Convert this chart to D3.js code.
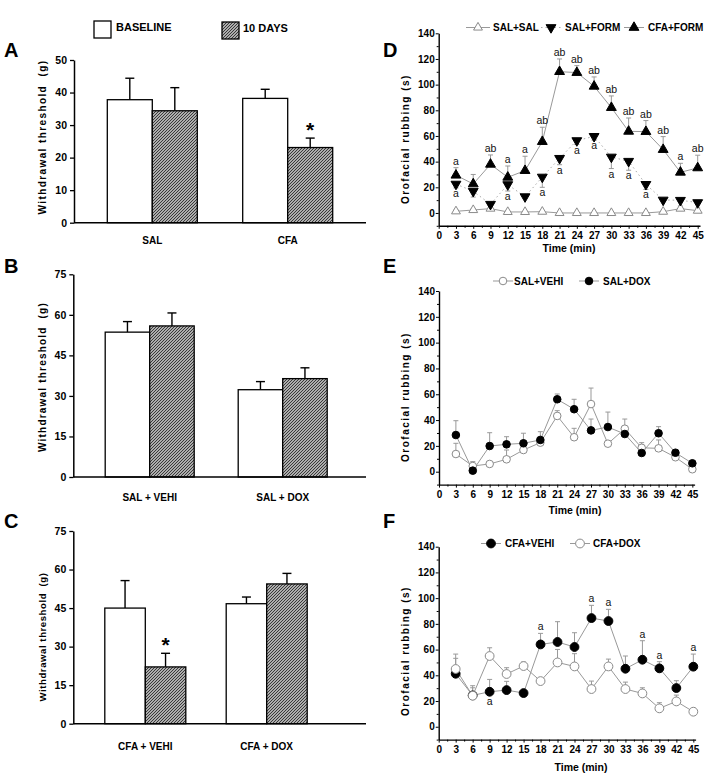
<!DOCTYPE html>
<html><head><meta charset="utf-8">
<script src="https://cdn.jsdelivr.net/npm/d3@7"></script>
<style>
body{margin:0;background:#fff}
svg{display:block;font-family:"Liberation Sans",Arial,sans-serif;font-weight:bold}
</style>
</head><body><svg id="c" width="718" height="780"></svg>
<script>
// ---------------- DATA ----------------
const barSeries = ["BASELINE", "10 DAYS"];

const catsA = ["SAL", "CFA"];
const baselineA = [37.8, 38.2];
const baselineErrA = [6.6, 2.8];
const tenDaysA = [34.4, 23.1];
const tenDaysErrA = [7.1, 2.9];
const starsA = ["", "*"];

const catsB = ["SAL + VEHI", "SAL + DOX"];
const baselineB = [53.6, 32.3];
const baselineErrB = [3.9, 3.0];
const tenDaysB = [55.9, 36.4];
const tenDaysErrB = [4.8, 4.0];
const starsB = ["", ""];

const catsC = ["CFA + VEHI", "CFA + DOX"];
const baselineC = [45.0, 46.7];
const baselineErrC = [10.7, 2.6];
const tenDaysC = [22.1, 54.4];
const tenDaysErrC = [5.3, 4.1];
const starsC = ["*", ""];

const barTicksA = [0, 10, 20, 30, 40, 50];
const barTicksBC = [0, 15, 30, 45, 60, 75];

const time = [3, 6, 9, 12, 15, 18, 21, 24, 27, 30, 33, 36, 39, 42, 45];
const timeTicks = [0, 3, 6, 9, 12, 15, 18, 21, 24, 27, 30, 33, 36, 39, 42, 45];
const rubTicks = [0, 20, 40, 60, 80, 100, 120, 140];

// Panel D
const salSal = [1.3, 2.3, 3.4, 0.8, 0.8, 1.0, 0, 0, 0, 0, 0, 0, 1.0, 3.4, 1.8];
const salSalErr = [1, 1, 1, 0.5, 0.5, 0.5, 0, 0, 0, 0, 0, 0, 1, 2, 2];
const salForm = [22.5, 16.9, 6.8, 22.1, 12.7, 28.0, 42.6, 56.4, 59.7, 43.6, 40.3, 22.3, 10.1, 9.9, 8.1];
const salFormErr = [3, 4.5, 1, 5, 1, 8, 5, 3, 3, 9, 7, 4, 1, 1, 1];
const cfaForm = [29.4, 22.6, 37.9, 27.8, 33.0, 55.6, 110.1, 109.4, 98.7, 82.1, 63.6, 63.4, 49.4, 31.7, 35.1];
const cfaFormErr = [5.9, 7.4, 7.3, 8.8, 11.2, 11.2, 9.9, 5.4, 7.3, 9.1, 10.4, 8.6, 10.1, 7.0, 9.9];
const cfaFormSig = ["a", "", "ab", "a", "a", "ab", "ab", "ab", "ab", "ab", "ab", "ab", "ab", "a", "ab"];
const salFormSig = ["a", "", "", "a", "", "a", "a", "a", "a", "a", "a", "a", "", "", ""];

// Panel E
const salVehi = [13.7, 4.4, 6.0, 9.6, 16.8, 22.5, 43.2, 26.7, 52.4, 21.7, 33.3, 18.5, 18.1, 11.2, 1.9];
const salVehiErr = [8.3, 3.4, 1, 7.2, 2, 2, 4.1, 6.9, 12.4, 2, 7.5, 4, 6.5, 1, 1];
const salDox = [28.4, 0.8, 19.9, 21.2, 22.0, 24.6, 56.1, 48.4, 32.0, 34.6, 29.2, 14.5, 29.8, 14.7, 6.5];
const salDoxErr = [11.1, 1.5, 10.3, 5.9, 7.8, 6.4, 4.1, 7.7, 8.8, 11.6, 3, 3, 5.1, 1, 1];

// Panel F
const cfaVehi = [41.2, 24.4, 27.2, 28.5, 26.2, 64.0, 65.9, 62.0, 84.5, 82.2, 45.1, 52.1, 45.4, 30.1, 46.7];
const cfaVehiErr = [12.0, 7.5, 9.6, 6.8, 1.0, 8.6, 15.8, 11.1, 9.9, 9.1, 9.9, 14.8, 5.2, 5.7, 9.8];
const cfaDox = [44.9, 24.1, 55.0, 41.0, 47.2, 35.5, 50.0, 46.9, 29.3, 46.9, 29.3, 25.9, 14.3, 19.7, 11.7];
const cfaDoxErr = [11.6, 6.2, 6.4, 4.9, 3.1, 1.0, 10.1, 9.9, 6.2, 5.7, 5.4, 4.4, 4.4, 4.9, 2.6];
const cfaVehiSigAbove = ["", "", "", "", "", "a", "", "", "a", "a", "", "a", "a", "", "a"];
const cfaVehiSigBelow = ["", "", "a", "", "", "", "", "", "", "", "", "", "", "", ""];

// ---------------- DRAWING ----------------
const svg = d3.select("#c");
const defs = svg.append("defs");
const pat = defs.append("pattern").attr("id", "hatch")
  .attr("patternUnits", "userSpaceOnUse").attr("width", 3).attr("height", 3);
pat.append("rect").attr("width", 3).attr("height", 3).attr("fill", "#adadad");
pat.append("path").attr("d", "M-1,1L1,-1M0,3L3,0M2,4L4,2")
  .attr("stroke", "#333").attr("stroke-width", 0.95);

const fillFor = s => s === barSeries[0] ? "#fff" : "url(#hatch)";

function panelLetter(txt, x, y) {
  svg.append("text").attr("x", x).attr("y", y).attr("font-size", 20)
    .attr("font-weight", "bold").text(txt);
}

// top legend
[[barSeries[0], 94, 21, 116, 30.5], [barSeries[1], 222, 22, 243, 31.5]].forEach(([s, bx, by, tx, ty]) => {
  svg.append("rect").attr("x", bx).attr("y", by).attr("width", 17).attr("height", 17)
    .attr("fill", fillFor(s)).attr("stroke", "#000").attr("stroke-width", 1.3);
  svg.append("text").attr("x", tx).attr("y", ty).attr("font-size", 11).text(s);
});

function barPanel(cfg) {
  const y = d3.scaleLinear().domain(cfg.yDomain).range(cfg.yRange);
  const xc = d3.scalePoint().domain(cfg.cats).range(cfg.centerRange);
  const xs = d3.scaleBand().domain(barSeries).range([-cfg.barW, cfg.barW]).padding(0);
  const g = svg.append("g");
  const vals = [cfg.base, cfg.ten];
  const errs = [cfg.baseErr, cfg.tenErr];
  cfg.cats.forEach((c, i) => {
    barSeries.forEach((s, k) => {
      const v = vals[k][i], e = errs[k][i];
      const x0 = xc(c) + xs(s), w = xs.bandwidth(), cx = x0 + w / 2;
      g.append("line").attr("x1", cx).attr("x2", cx).attr("y1", y(v)).attr("y2", y(v + e))
        .attr("stroke", "#000").attr("stroke-width", 1.4);
      g.append("line").attr("x1", cx - 4.5).attr("x2", cx + 4.5).attr("y1", y(v + e)).attr("y2", y(v + e))
        .attr("stroke", "#000").attr("stroke-width", 1.4);
      g.append("rect").attr("x", x0).attr("y", y(v)).attr("width", w).attr("height", y(0) - y(v))
        .attr("fill", fillFor(s)).attr("stroke", "#000").attr("stroke-width", 1.3);
      if (k === 1 && cfg.stars[i]) {
        g.append("text").attr("x", cx).attr("y", y(v + e) - 1).attr("text-anchor", "middle")
          .attr("font-size", 21).attr("font-weight", "bold").text(cfg.stars[i]);
      }
    });
    g.append("text").attr("x", xc(c)).attr("y", cfg.labelY).attr("text-anchor", "middle")
      .attr("font-size", 10).text(c);
  });
  const ax = g.append("g").attr("transform", `translate(${cfg.axisX},0)`)
    .call(d3.axisLeft(y).tickValues(cfg.ticks).tickSize(4).tickSizeOuter(0).tickPadding(3));
  ax.selectAll("text").attr("font-size", 10.5).attr("font-family", "Liberation Sans, Arial, sans-serif").attr("font-weight", "bold");
  ax.select(".domain").attr("stroke-width", 1.5);
  ax.selectAll(".tick line").attr("stroke-width", 1.3);
  g.append("line").attr("x1", cfg.axisX).attr("x2", cfg.axisEnd).attr("y1", y(0)).attr("y2", y(0))
    .attr("stroke", "#000").attr("stroke-width", 1.5);
  g.append("text").attr("transform", `translate(${cfg.titleX},${cfg.titleY}) rotate(-90)`)
    .attr("text-anchor", "middle").attr("font-size", cfg.titleSize).attr("letter-spacing", cfg.titleLs)
    .attr("xml:space", "preserve").text("Withdrawal threshold  (g)");
}

barPanel({cats: catsA, base: baselineA, baseErr: baselineErrA, ten: tenDaysA, tenErr: tenDaysErrA, stars: starsA,
  yDomain: [0, 50], yRange: [222.7, 60], ticks: barTicksA, centerRange: [152.3, 287.7], barW: 45,
  axisX: 74, axisEnd: 366, labelY: 244, titleX: 46, titleY: 137, titleSize: 10, titleLs: 1.4});
barPanel({cats: catsB, base: baselineB, baseErr: baselineErrB, ten: tenDaysB, tenErr: tenDaysErrB, stars: starsB,
  yDomain: [0, 75], yRange: [477, 274.3], ticks: barTicksBC, centerRange: [149.7, 282.7], barW: 44.5,
  axisX: 73.3, axisEnd: 366, labelY: 501, titleX: 46, titleY: 377, titleSize: 10, titleLs: 1.2});
barPanel({cats: catsC, base: baselineC, baseErr: baselineErrC, ten: tenDaysC, tenErr: tenDaysErrC, stars: starsC,
  yDomain: [0, 75], yRange: [723.7, 531], ticks: barTicksBC, centerRange: [145.3, 266.7], barW: 40.5,
  axisX: 73.3, axisEnd: 366, labelY: 750, titleX: 46, titleY: 637, titleSize: 9.5, titleLs: 0.6});

panelLetter("A", 4, 57);
panelLetter("B", 4, 273);
panelLetter("C", 4, 528);
panelLetter("D", 383, 57);
panelLetter("E", 383, 273);
panelLetter("F", 383, 528);

function marker(g, type, cx, cy, sz) {
  const gray = "#8a8a8a";
  if (type === "circle" || type === "circleOpen") {
    g.append("circle").attr("cx", cx).attr("cy", cy).attr("r", sz)
      .attr("fill", type === "circle" ? "#000" : "#fff")
      .attr("stroke", type === "circle" ? "#000" : gray).attr("stroke-width", 1);
  } else {
    const p = d3.symbol().type(d3.symbolTriangle).size(sz)();
    const rot = type === "triDown" ? 180 : 0;
    g.append("path").attr("d", p).attr("transform", `translate(${cx},${cy}) rotate(${rot})`)
      .attr("fill", type === "triUpOpen" ? "#fff" : "#000")
      .attr("stroke", type === "triUpOpen" ? gray : "#000").attr("stroke-width", 1);
  }
}

function linePanel(cfg) {
  const x = d3.scaleLinear().domain([0, 45.4]).range(cfg.xRange);
  const y = d3.scaleLinear().domain([-10, 140]).range(cfg.yRange);
  const g = svg.append("g");
  const ay = g.append("g").attr("transform", `translate(${cfg.xRange[0]},0)`)
    .call(d3.axisLeft(y).tickValues(rubTicks).tickSize(3).tickSizeOuter(0).tickPadding(1));
  ay.selectAll("text").attr("font-size", 10).attr("font-family", "Liberation Sans, Arial, sans-serif").attr("font-weight", "bold");
  ay.select(".domain").attr("stroke-width", 1.4);
  g.append("g").attr("transform", `translate(${cfg.xRange[0]},0)`)
    .call(d3.axisLeft(y).tickValues(d3.range(-10, 140, 20)).tickSize(2).tickSizeOuter(0).tickFormat(""))
    .select(".domain").remove();
  const axx = g.append("g").attr("transform", `translate(0,${y(-10)})`)
    .call(d3.axisBottom(x).tickValues(timeTicks).tickSize(3).tickSizeOuter(0).tickPadding(3));
  axx.selectAll("text").attr("font-size", 10).attr("font-family", "Liberation Sans, Arial, sans-serif").attr("font-weight", "bold");
  axx.select(".domain").attr("stroke-width", 1.4);
  g.append("g").attr("transform", `translate(0,${y(-10)})`)
    .call(d3.axisBottom(x).tickValues(d3.range(1.5, 45, 3)).tickSize(2).tickSizeOuter(0).tickFormat(""))
    .select(".domain").remove();
  g.append("text").attr("transform", `translate(${cfg.titleX},${cfg.titleY}) rotate(-90)`)
    .attr("text-anchor", "middle").attr("font-size", 10).attr("letter-spacing", 1.5)
    .text("Orofacial rubbing (s)");
  g.append("text").attr("x", cfg.timeX).attr("y", cfg.timeY).attr("text-anchor", "middle")
    .attr("font-size", 10.5).text("Time (min)");

  const line = d3.line().x(d => x(d.t)).y(d => y(d.v));
  const pts = s => time.map((t, i) => ({t, v: s.values[i], e: s.err[i]}));
  cfg.series.forEach(s => {
    g.append("path").datum(pts(s)).attr("d", line).attr("fill", "none")
      .attr("stroke", s.lineColor).attr("stroke-width", s.lineW || 1)
      .attr("stroke-dasharray", s.dash || null);
  });
  cfg.series.forEach(s => {
    pts(s).forEach(d => {
      if (!d.e) return;
      const ye = y(d.v + s.dir * d.e);
      g.append("line").attr("x1", x(d.t)).attr("x2", x(d.t)).attr("y1", y(d.v)).attr("y2", ye)
        .attr("stroke", "#999").attr("stroke-width", 1);
      g.append("line").attr("x1", x(d.t) - 2.5).attr("x2", x(d.t) + 2.5).attr("y1", ye).attr("y2", ye)
        .attr("stroke", "#999").attr("stroke-width", 1);
    });
  });
  cfg.series.forEach(s => {
    pts(s).forEach(d => marker(g, s.marker, x(d.t), y(d.v), s.size));
  });
  (cfg.sigs || []).forEach(sg => {
    time.forEach((t, i) => {
      const txt = sg.labels[i];
      if (!txt) return;
      const v = sg.values[i], e = sg.err[i];
      const yy = sg.above ? y(v + e) - 3 : Math.max(y(v) + 13, y(v - e) + 9);
      g.append("text").attr("x", x(t)).attr("y", yy).attr("text-anchor", "middle")
        .attr("font-size", 10.5).attr("font-weight", "normal").attr("fill", "#111").text(txt);
    });
  });
  cfg.legend.forEach(l => {
    const s = cfg.series[l.idx];
    g.append("line").attr("x1", l.x1).attr("x2", l.x2).attr("y1", cfg.legendY).attr("y2", cfg.legendY)
      .attr("stroke", s.lineColor).attr("stroke-width", 1).attr("stroke-dasharray", s.dash || null);
    marker(g, s.marker, (l.x1 + l.x2) / 2, cfg.legendY, s.size);
    g.append("text").attr("x", l.tx).attr("y", cfg.legendY + 3.5).attr("font-size", 10).text(s.name);
  });
}

linePanel({
  xRange: [438.7, 700], yRange: [225.8, 33.3], titleX: 409, titleY: 139, timeX: 569, timeY: 252,
  series: [
    {name: "SAL+SAL", values: salSal, err: salSalErr, dir: 1, marker: "triUpOpen", size: 34, lineColor: "#999"},
    {name: "SAL+FORM", values: salForm, err: salFormErr, dir: -1, marker: "triDown", size: 42, lineColor: "#aaa", dash: "1.5,3"},
    {name: "CFA+FORM", values: cfaForm, err: cfaFormErr, dir: 1, marker: "triUp", size: 42, lineColor: "#999"}
  ],
  sigs: [
    {labels: cfaFormSig, values: cfaForm, err: cfaFormErr, above: true},
    {labels: salFormSig, values: salForm, err: salFormErr, above: false}
  ],
  legendY: 27.5,
  legend: [{idx: 0, x1: 466, x2: 490, tx: 493}, {idx: 1, x1: 541, x2: 561, tx: 565}, {idx: 2, x1: 624, x2: 644, tx: 648}]
});

linePanel({
  xRange: [439, 694.6], yRange: [484.6, 291], titleX: 409, titleY: 397, timeX: 575, timeY: 514,
  series: [
    {name: "SAL+VEHI", values: salVehi, err: salVehiErr, dir: 1, marker: "circleOpen", size: 3.8, lineColor: "#999"},
    {name: "SAL+DOX", values: salDox, err: salDoxErr, dir: 1, marker: "circle", size: 3.8, lineColor: "#999"}
  ],
  legendY: 281,
  legend: [{idx: 0, x1: 493, x2: 513, tx: 514}, {idx: 1, x1: 579, x2: 599, tx: 603}]
});

linePanel({
  xRange: [438.7, 695.6], yRange: [739.6, 546.7], titleX: 409, titleY: 651, timeX: 581, timeY: 771,
  series: [
    {name: "CFA+VEHI", values: cfaVehi, err: cfaVehiErr, dir: 1, marker: "circle", size: 4.4, lineColor: "#999"},
    {name: "CFA+DOX", values: cfaDox, err: cfaDoxErr, dir: 1, marker: "circleOpen", size: 4.4, lineColor: "#999"}
  ],
  sigs: [
    {labels: cfaVehiSigAbove, values: cfaVehi, err: cfaVehiErr, above: true},
    {labels: cfaVehiSigBelow, values: cfaVehi, err: cfaVehi.map(() => 0), above: false}
  ],
  legendY: 543.5,
  legend: [{idx: 0, x1: 481, x2: 501, tx: 505}, {idx: 1, x1: 570, x2: 590, tx: 593}]
});
</script>
</body></html>
